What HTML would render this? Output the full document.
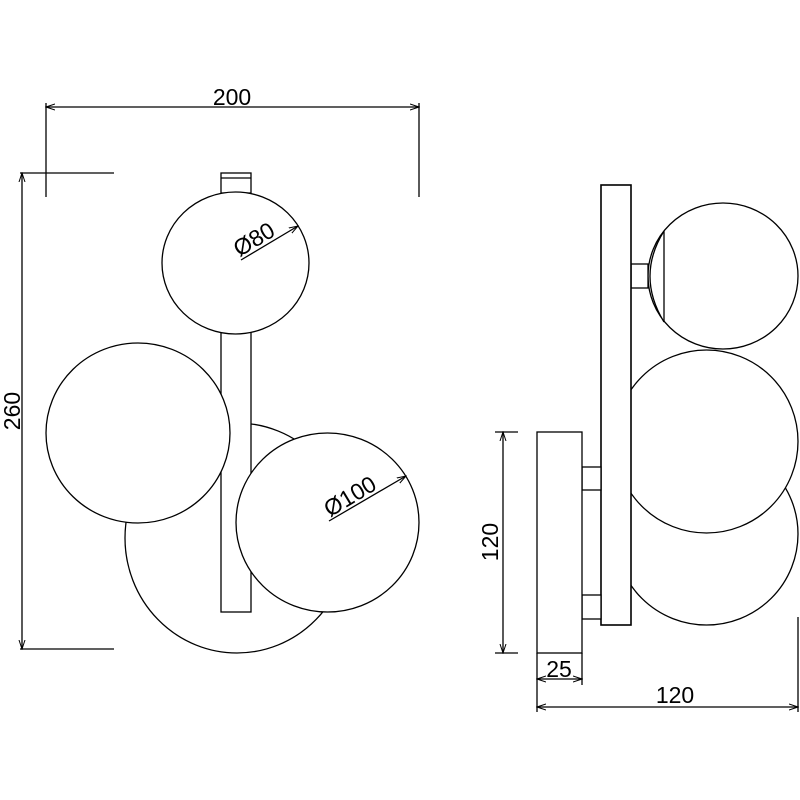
<!DOCTYPE html>
<html><head><style>
html,body{margin:0;padding:0;background:#fff;}
svg{display:block;}
text{font-family:"Liberation Sans",sans-serif;font-size:23px;fill:#000;}
</style></head><body>
<svg width="800" height="800" viewBox="0 0 800 800" xmlns="http://www.w3.org/2000/svg">
<defs>
<marker id="a" markerWidth="10" markerHeight="8" refX="9" refY="4" orient="auto-start-reverse" markerUnits="userSpaceOnUse">
<path d="M0,1 L9,4 L0,7" fill="none" stroke="#000" stroke-width="1"/>
</marker>
</defs>
<g fill="none" stroke="#000" stroke-width="1.3">
<line x1="46" y1="107" x2="419" y2="107" marker-start="url(#a)" marker-end="url(#a)"/>
<line x1="46" y1="103" x2="46" y2="197"/>
<line x1="419" y1="103" x2="419" y2="197"/>
<line x1="20" y1="173" x2="114" y2="173"/>
<line x1="20" y1="649" x2="114" y2="649"/>
<line x1="22" y1="173" x2="22" y2="649" marker-start="url(#a)" marker-end="url(#a)"/>
<ellipse cx="237" cy="538" rx="112" ry="115" fill="#fff"/>
<rect x="221" y="173" width="30" height="20" fill="#fff"/>
<line x1="221" y1="178" x2="251" y2="178"/>
<rect x="221" y="330" width="30" height="282" fill="#fff"/>
<ellipse cx="235.5" cy="263" rx="73.5" ry="71" fill="#fff"/>
<ellipse cx="138" cy="433" rx="92" ry="90" fill="#fff"/>
<ellipse cx="327.5" cy="522.5" rx="91.5" ry="89.5" fill="#fff"/>
<line x1="241" y1="260" x2="298" y2="226" marker-end="url(#a)"/>
<line x1="329" y1="521" x2="406" y2="476" marker-end="url(#a)"/>
<ellipse cx="706.5" cy="534" rx="91.5" ry="91" fill="#fff"/>
<ellipse cx="706.5" cy="441.5" rx="91.5" ry="91.5" fill="#fff"/>
<ellipse cx="723" cy="276" rx="75" ry="73" fill="#fff"/>
<path d="M664,231 Q636,276 664,322" fill="#fff"/>
<line x1="664" y1="231" x2="664" y2="322"/>
<rect x="631" y="264" width="17" height="24" fill="#fff"/>
<rect x="601" y="185" width="30" height="440" fill="#fff" stroke-width="1.6"/>
<rect x="582" y="467" width="19" height="23" fill="#fff"/>
<rect x="582" y="595" width="19" height="24" fill="#fff"/>
<rect x="537" y="432" width="45" height="221" fill="#fff"/>
<line x1="495" y1="432" x2="518" y2="432"/>
<line x1="495" y1="653" x2="518" y2="653"/>
<line x1="503" y1="432" x2="503" y2="653" marker-start="url(#a)" marker-end="url(#a)"/>
<line x1="537" y1="653" x2="537" y2="712"/>
<line x1="582" y1="653" x2="582" y2="685"/>
<line x1="537" y1="679" x2="582" y2="679" marker-start="url(#a)" marker-end="url(#a)"/>
<line x1="798" y1="617" x2="798" y2="712"/>
<line x1="537" y1="707" x2="798" y2="707" marker-start="url(#a)" marker-end="url(#a)"/>
</g>
<text x="232" y="105" text-anchor="middle">200</text>
<text transform="translate(20,411) rotate(-90)" text-anchor="middle">260</text>
<text transform="translate(258,246) rotate(-31)" text-anchor="middle">Ø80</text>
<text transform="translate(354,503) rotate(-31)" text-anchor="middle">Ø100</text>
<text transform="translate(498,542) rotate(-90)" text-anchor="middle">120</text>
<text x="559" y="677" text-anchor="middle">25</text>
<text x="675" y="703" text-anchor="middle">120</text>
</svg>
</body></html>
